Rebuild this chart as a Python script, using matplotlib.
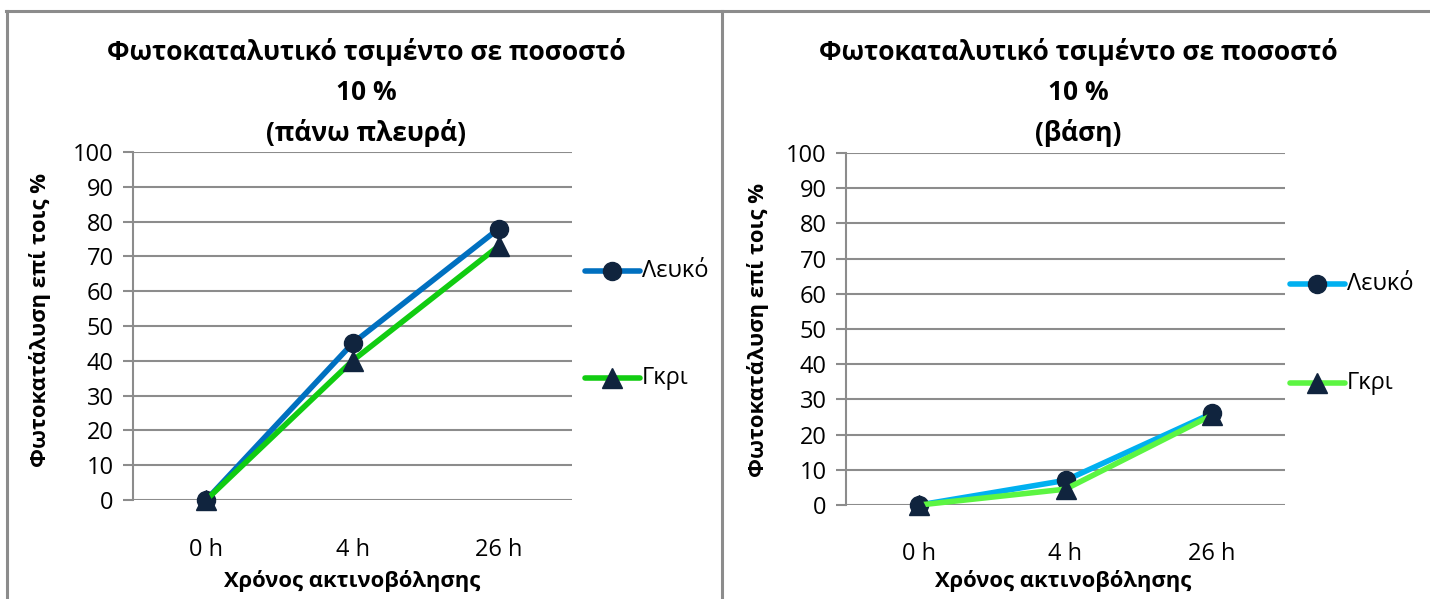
import matplotlib
matplotlib.use("Agg")
import matplotlib.pyplot as plt
from matplotlib.lines import Line2D

plt.rcParams['font.family'] = ['Open Sans', 'DejaVu Sans']

# Data
categories = ["0 h", "4 h", "26 h"]
series_names = ["Λευκό", "Γκρι"]

top_leuko = [0, 45, 78]
top_gkri = [0, 40, 73]

base_leuko = [0, 7, 26]
base_gkri = [0, 4.5, 25.5]

yticks = list(range(0, 101, 10))

title_lines_top = ["Φωτοκαταλυτικό τσιμέντο σε ποσοστό", "10 %", "(πάνω πλευρά)"]
title_lines_base = ["Φωτοκαταλυτικό τσιμέντο σε ποσοστό", "10 %", "(βάση)"]
ylabel = "Φωτοκατάλυση επί τοις %"
xlabel = "Χρόνος ακτινοβόλησης"

W, H = 1430, 599
fig = plt.figure(figsize=(W / 100, H / 100), dpi=100)
fig.patch.set_facecolor("white")

GRID = "#8c8c8c"
MARKER = "#10243e"
TXT = "#000000"
TICK_FS = 17
LABEL_FS = 15.8
TITLE_FS = 19


def px_axes(x0, y_top, x1, y_bot):
    return fig.add_axes([x0 / W, 1 - y_bot / H, (x1 - x0) / W, (y_bot - y_top) / H])


def fy(y):
    return 1 - y / H


def fx(x):
    return x / W


def panel(ax, leuko, gkri, c_leuko, c_gkri, titles, cx, leg_x, leg_y1, leg_y2, ylab_x, ylab_y, xlab_x):
    xs = list(range(len(categories)))
    ax.set_xlim(-0.5, len(categories) - 0.5)
    ax.set_ylim(0, 100)
    ax.set_yticks(yticks)
    ax.set_yticklabels([str(v) for v in yticks], fontsize=TICK_FS, color=TXT)
    ax.set_xticks(xs)
    ax.set_xticklabels(categories, fontsize=TICK_FS, color=TXT)
    ax.tick_params(axis="y", length=7, width=1.5, color=GRID, pad=7)
    ax.tick_params(axis="x", length=0, pad=27)
    ax.grid(axis="y", color=GRID, linewidth=1.5)
    ax.set_axisbelow(True)
    for s in ["top", "right", "bottom"]:
        ax.spines[s].set_visible(False)
    ax.spines["left"].set_color(GRID)
    ax.spines["left"].set_linewidth(1.5)

    ax.plot(xs, leuko, color=c_leuko, linewidth=4, marker="o", markersize=13,
            markerfacecolor=MARKER, markeredgecolor=MARKER, zorder=3, clip_on=False)
    ax.plot(xs, gkri, color=c_gkri, linewidth=4, marker="^", markersize=14,
            markerfacecolor=MARKER, markeredgecolor=MARKER, zorder=4, clip_on=False)

    for text, y in zip(titles, [52, 93, 133]):
        fig.text(fx(cx), fy(y), text, ha="center", va="center", fontsize=TITLE_FS,
                 fontweight="bold", color=TXT)

    # legend entries
    for y, c, m, ms, name in [(leg_y1, c_leuko, "o", 13, series_names[0]),
                              (leg_y2, c_gkri, "^", 14, series_names[1])]:
        fig.add_artist(Line2D([fx(leg_x), fx(leg_x + 55)], [fy(y), fy(y)],
                              color=c, linewidth=4, solid_capstyle="round",
                              transform=fig.transFigure))
        fig.add_artist(Line2D([fx(leg_x + 27)], [fy(y)], marker=m, markersize=ms,
                              markerfacecolor=MARKER, markeredgecolor=MARKER,
                              linestyle="none", transform=fig.transFigure))
        fig.text(fx(leg_x + 57), fy(y), name, ha="left", va="center",
                 fontsize=TICK_FS, color=TXT)

    fig.text(fx(ylab_x), fy(ylab_y), ylabel, rotation=90, ha="center", va="center",
             fontsize=LABEL_FS, fontweight="bold", color=TXT)
    fig.text(fx(xlab_x), fy(581), xlabel, ha="center", va="center",
             fontsize=LABEL_FS, fontweight="bold", color=TXT)


ax1 = px_axes(133, 152, 572, 500)
panel(ax1, top_leuko, top_gkri, "#0070c0", "#11cc11", title_lines_top,
      366, 585, 271, 378, 40, 320, 352)

ax2 = px_axes(846, 153, 1285, 505)
panel(ax2, base_leuko, base_gkri, "#00b0f0", "#5cf542", title_lines_base,
      1078, 1290, 284, 383, 758, 330, 1063)

# chart frames
frame_kw = dict(color="#8c8c8c", linewidth=2.2, transform=fig.transFigure)
fig.add_artist(Line2D([fx(6), fx(W)], [fy(11), fy(11)], **frame_kw))
fig.add_artist(Line2D([fx(7), fx(7)], [fy(11), 0], **frame_kw))
fig.add_artist(Line2D([fx(722), fx(722)], [fy(11), 0], **frame_kw))

fig.savefig("out.png", dpi=100, facecolor="white")
